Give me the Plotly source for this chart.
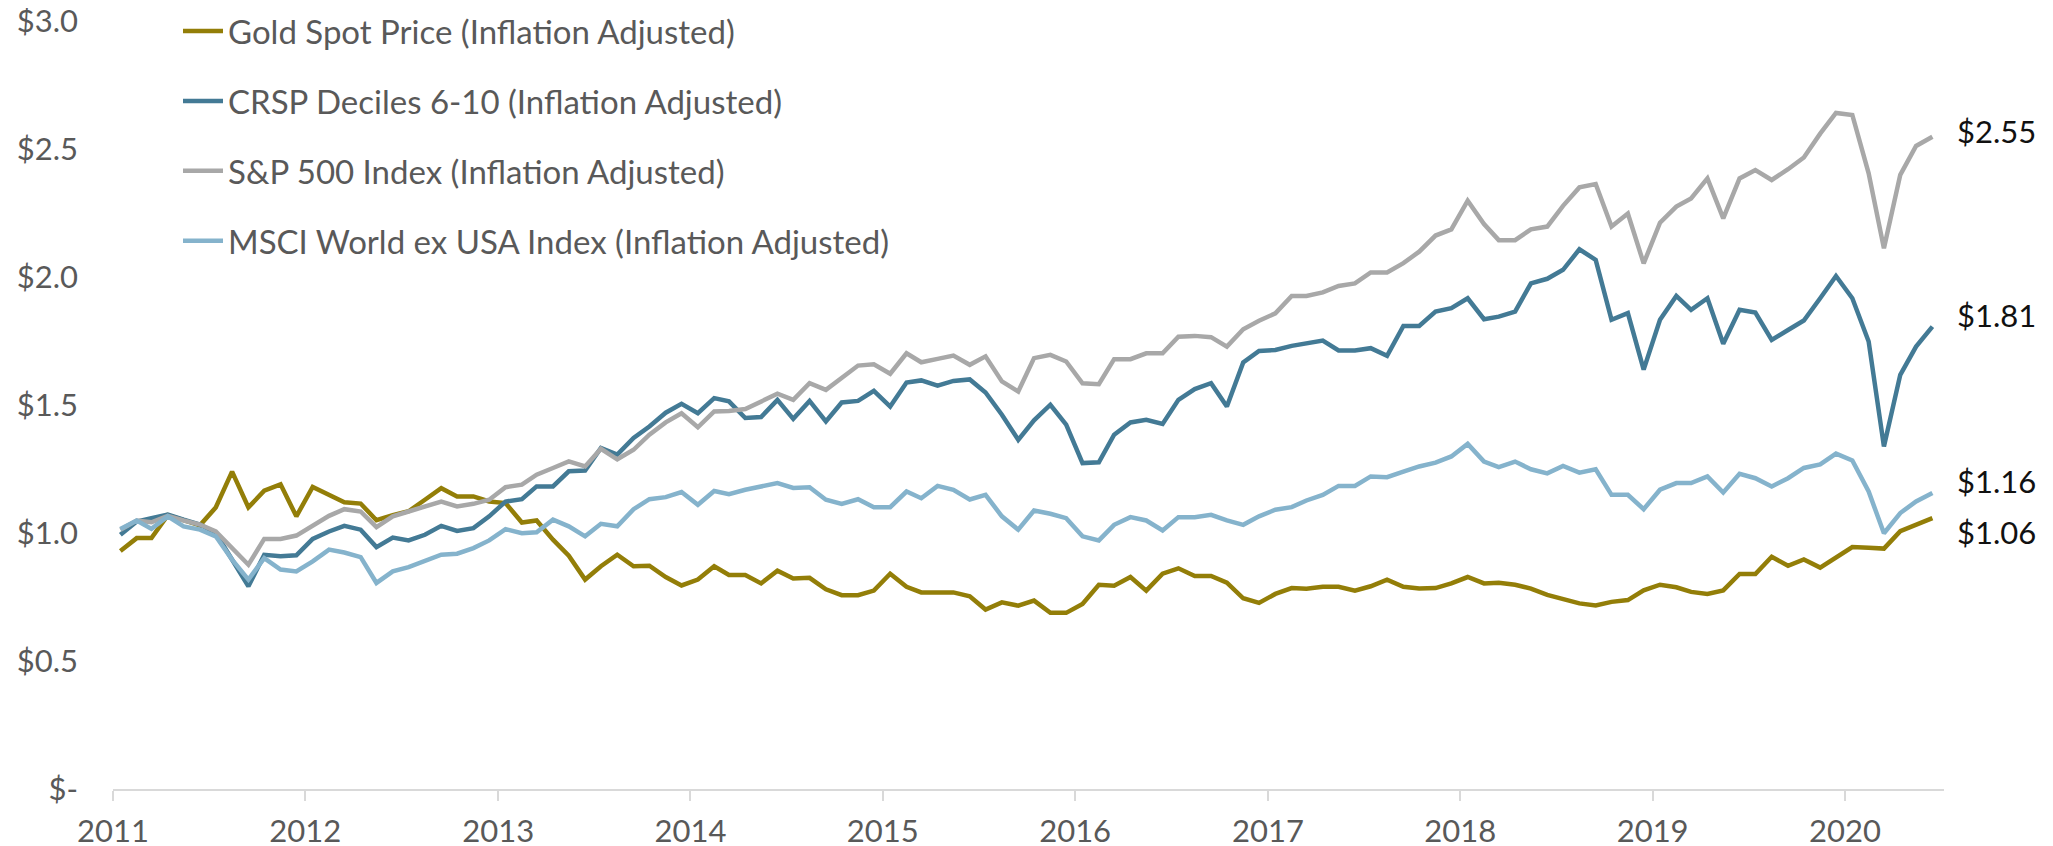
import pandas as pd
import plotly.graph_objects as go

dates = pd.date_range(start="2011-01-01", periods=114, freq="MS") + pd.Timedelta(days=14)

gold = [0.93, 0.98, 0.98, 1.07, 1.05, 1.03, 1.10, 1.24, 1.10, 1.165, 1.19, 1.065, 1.18, 1.15, 1.12, 1.115, 1.05, 1.07,
        1.085, 1.13, 1.175, 1.143, 1.143, 1.123, 1.117, 1.041, 1.049, 0.974, 0.911, 0.818, 0.870, 0.915, 0.870, 0.872,
        0.828, 0.795, 0.818, 0.870, 0.836, 0.836, 0.803, 0.853, 0.822, 0.825, 0.780, 0.757, 0.757, 0.775, 0.841, 0.790,
        0.768, 0.768, 0.768, 0.753, 0.701, 0.729, 0.716, 0.736, 0.688, 0.688, 0.723, 0.798, 0.794, 0.828, 0.775, 0.841,
        0.862, 0.832, 0.832, 0.806, 0.745, 0.727, 0.762, 0.785, 0.782, 0.790, 0.790, 0.775, 0.792, 0.818, 0.790, 0.783,
        0.785, 0.803, 0.828, 0.803, 0.806, 0.798, 0.783, 0.758, 0.743, 0.725, 0.717, 0.731, 0.738, 0.776, 0.798, 0.788,
        0.770, 0.762, 0.776, 0.840, 0.840, 0.907, 0.872, 0.897, 0.865, 0.904, 0.945, 0.942, 0.939, 1.007, 1.031, 1.058]

crsp = [0.993, 1.045, 1.058, 1.072, 1.052, 1.033, 1.000, 0.896, 0.792, 0.915, 0.909, 0.913, 0.977, 1.006, 1.028, 1.013,
        0.945, 0.982, 0.971, 0.993, 1.028, 1.008, 1.019, 1.065, 1.123, 1.132, 1.182, 1.182, 1.241, 1.244, 1.332, 1.306,
        1.371, 1.416, 1.470, 1.505, 1.468, 1.527, 1.514, 1.449, 1.453, 1.520, 1.446, 1.516, 1.436, 1.510, 1.516, 1.555,
        1.494, 1.588, 1.596, 1.576, 1.594, 1.600, 1.549, 1.462, 1.364, 1.440, 1.501, 1.423, 1.273, 1.276, 1.384, 1.432,
        1.442, 1.426, 1.520, 1.562, 1.585, 1.494, 1.666, 1.711, 1.715, 1.731, 1.739, 1.752, 1.713, 1.713, 1.722, 1.692,
        1.809, 1.809, 1.865, 1.878, 1.917, 1.835, 1.845, 1.865, 1.975, 1.993, 2.028, 2.108, 2.067, 1.833, 1.859, 1.638,
        1.833, 1.926, 1.872, 1.917, 1.739, 1.872, 1.861, 1.754, 1.793, 1.830, 1.917, 2.004, 1.917, 1.748, 1.338, 1.618,
        1.728, 1.806]

sp500 = [1.013, 1.049, 1.042, 1.067, 1.049, 1.033, 1.006, 0.941, 0.876, 0.977, 0.977, 0.990, 1.028, 1.067, 1.093, 1.084,
         1.023, 1.065, 1.084, 1.104, 1.123, 1.104, 1.114, 1.130, 1.179, 1.189, 1.228, 1.254, 1.280, 1.260, 1.329, 1.288,
         1.325, 1.384, 1.432, 1.468, 1.413, 1.475, 1.477, 1.484, 1.514, 1.544, 1.520, 1.585, 1.559, 1.605, 1.654, 1.659,
         1.622, 1.702, 1.667, 1.680, 1.693, 1.657, 1.690, 1.592, 1.553, 1.683, 1.696, 1.670, 1.585, 1.581, 1.679, 1.679,
         1.702, 1.702, 1.767, 1.770, 1.765, 1.728, 1.796, 1.829, 1.858, 1.926, 1.926, 1.940, 1.965, 1.975, 2.018, 2.018,
         2.054, 2.099, 2.162, 2.186, 2.298, 2.207, 2.144, 2.144, 2.186, 2.197, 2.278, 2.350, 2.363, 2.197, 2.248, 2.053,
         2.212, 2.275, 2.307, 2.385, 2.229, 2.385, 2.418, 2.379, 2.421, 2.467, 2.560, 2.641, 2.633, 2.405, 2.112, 2.399,
         2.512, 2.548]

msci = [1.016, 1.049, 1.016, 1.065, 1.026, 1.013, 0.987, 0.896, 0.818, 0.902, 0.857, 0.850, 0.889, 0.935, 0.924, 0.906,
        0.805, 0.850, 0.867, 0.889, 0.915, 0.919, 0.941, 0.971, 1.015, 0.999, 1.003, 1.052, 1.026, 0.987, 1.036, 1.026,
        1.093, 1.132, 1.140, 1.160, 1.110, 1.164, 1.152, 1.169, 1.182, 1.195, 1.176, 1.179, 1.130, 1.114, 1.132, 1.101,
        1.101, 1.162, 1.136, 1.184, 1.169, 1.131, 1.149, 1.065, 1.013, 1.088, 1.075, 1.058, 0.987, 0.971, 1.032, 1.062,
        1.049, 1.010, 1.062, 1.062, 1.071, 1.049, 1.032, 1.065, 1.091, 1.101, 1.127, 1.149, 1.184, 1.184, 1.221, 1.218,
        1.240, 1.260, 1.275, 1.299, 1.348, 1.279, 1.257, 1.279, 1.249, 1.233, 1.262, 1.236, 1.249, 1.149, 1.149, 1.093,
        1.169, 1.195, 1.195, 1.221, 1.158, 1.231, 1.214, 1.182, 1.214, 1.254, 1.268, 1.310, 1.283, 1.162, 0.999, 1.078,
        1.123, 1.156]

series_names = ["Gold Spot Price (Inflation Adjusted)", "CRSP Deciles 6-10 (Inflation Adjusted)",
                "S&P 500 Index (Inflation Adjusted)", "MSCI World ex USA Index (Inflation Adjusted)"]
series_values = [gold, crsp, sp500, msci]
series_colors = ["#937E08", "#437A95", "#A8A8A8", "#85B3CC"]
end_labels = ["$1.06", "$1.81", "$2.55", "$1.16"]
end_label_shift = [-14, 12, 6, 12]

year_ticks = [f"{y}-01-01" for y in range(2011, 2021)]
year_labels = [str(y) for y in range(2011, 2021)]
y_ticks = [0, 0.5, 1.0, 1.5, 2.0, 2.5, 3.0]
y_labels = ["$-", "$0.5", "$1.0", "$1.5", "$2.0", "$2.5", "$3.0"]

FONT = "Lato, 'Open Sans', sans-serif"

fig = go.Figure()
for i, (name, vals, col) in enumerate(zip(series_names, series_values, series_colors)):
    fig.add_trace(go.Scatter(x=dates, y=vals, mode="lines", name=name,
                             line=dict(color=col, width=4.5), legendgroup=f"g{i}",
                             cliponaxis=False))

for name, vals, lab, ys in zip(series_names, series_values, end_labels, end_label_shift):
    fig.add_annotation(x=dates[-1], y=vals[-1], text=lab, showarrow=False,
                       xanchor="left", yanchor="middle", xshift=23, yshift=ys,
                       font=dict(family=FONT, size=31, color="#111111"))

fig.update_layout(
    width=2053, height=846,
    margin=dict(l=105, r=117, t=13, b=65, autoexpand=False),
    paper_bgcolor="white", plot_bgcolor="white",
    font=dict(family=FONT, size=31, color="#595959"),
    showlegend=True,
    legend=dict(x=0.0355, y=1.0234, xanchor="left", yanchor="top",
                bgcolor="rgba(0,0,0,0)", traceorder="grouped", tracegroupgap=24,
                font=dict(family=FONT, size=33, color="#595959"),
                itemwidth=40),
    xaxis=dict(type="date", range=["2011-01-01", "2020-07-07"],
               tickvals=year_ticks, ticktext=year_labels,
               showgrid=False, zeroline=False, automargin=False,
               showline=True, linecolor="#D9D9D9", linewidth=2,
               ticks="outside", ticklen=10, tickcolor="#D9D9D9", tickwidth=2,
               ticklabelstandoff=4, ticklabeloverflow="allow",
               tickfont=dict(family=FONT, size=31, color="#595959")),
    yaxis=dict(range=[0, 3.0], tickvals=y_ticks, ticktext=y_labels,
               showgrid=False, zeroline=False, showline=False, automargin=False,
               ticks="", ticklabelstandoff=34, ticklabeloverflow="allow",
               tickfont=dict(family=FONT, size=31, color="#595959")),
)

fig.write_html("out.html")
